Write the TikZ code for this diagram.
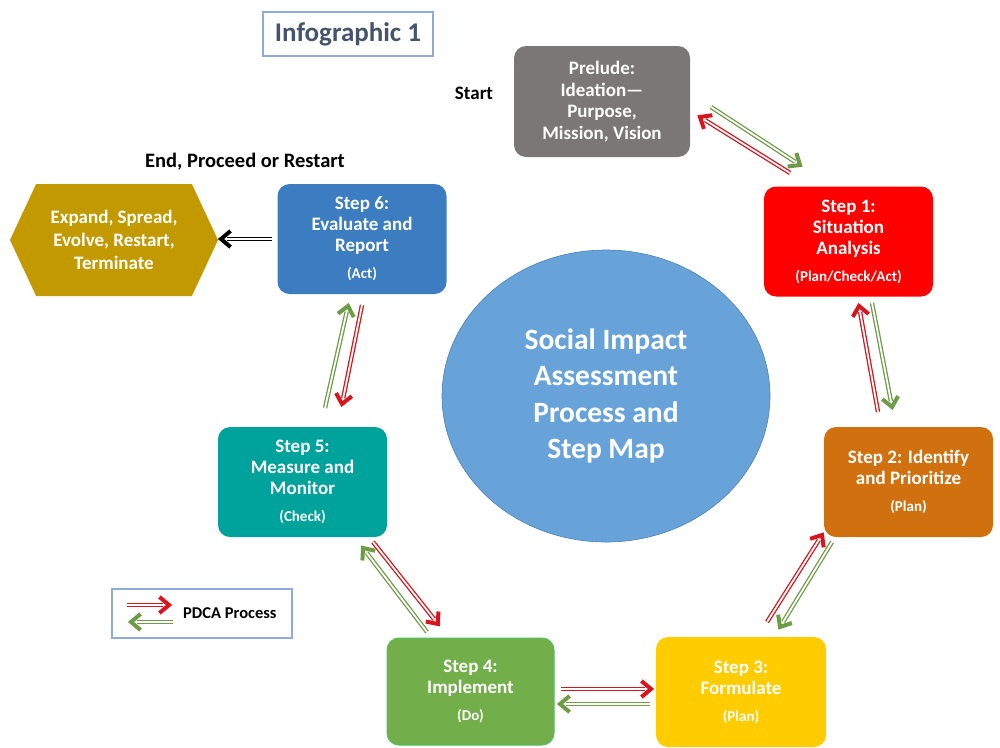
\documentclass[tikz,border=0pt]{standalone}
\usepackage{fontspec}
\setmainfont{Carlito}
\usetikzlibrary{arrows.meta,calc,shapes.geometric,shapes.symbols}

\definecolor{preludegray}{HTML}{7B7777}
\definecolor{stepred}{HTML}{FF0000}
\definecolor{steporange}{HTML}{D0700F}
\definecolor{stepyellow}{HTML}{FFCC00}
\definecolor{stepgreen}{HTML}{72AE49}
\definecolor{stepgreenedge}{HTML}{4FC060}
\definecolor{stepteal}{HTML}{00A39B}
\definecolor{stepblue}{HTML}{3B7DC0}
\definecolor{hexgold}{HTML}{C29A00}
\definecolor{centreblue}{HTML}{67A3D9}
\definecolor{centreedge}{HTML}{4F82B8}
\definecolor{titleslate}{HTML}{44546A}
\definecolor{frameblue}{HTML}{8EACD6}
\definecolor{arrowred}{HTML}{D9141C}
\definecolor{arrowgreen}{HTML}{6E9C46}

% double-lined arrow: shaft drawn double, chevron head drawn on top
\newcommand\pdcaarrow[3]{%
  \draw[pshaft=#1] (#2) -- ($(#3)!6pt!(#2)$);
  \draw[phead=#1] ($(#3)!12.5pt!-40:(#2)$) -- (#3) -- ($(#3)!12.5pt!40:(#2)$);
}

\begin{document}
\begin{tikzpicture}[x=1pt,y=-1pt,
  stepbox/.style={rounded corners=12pt, minimum width=169pt, minimum height=110pt,
    inner sep=0pt, align=center, text=white,
    font=\fontsize{19}{21}\selectfont\bfseries, fill=#1},
  pshaft/.style={draw=#1, line width=1.3pt, double=white, double distance=1.8pt},
  phead/.style={draw=#1, line width=4pt, line join=miter, line cap=butt},
  plain/.style={font=\fontsize{19}{21}\selectfont\bfseries, text=black, inner sep=0pt}
]
\useasboundingbox (0,0) rectangle (1000,747);

\newcommand\subl[1]{\\[6pt]{\fontsize{15}{16}\selectfont #1}}

% title
\node[draw=frameblue, line width=1.3pt, minimum width=170pt, minimum height=44pt,
  inner sep=0pt, text=titleslate, font=\fontsize{27}{30}\selectfont\bfseries]
  (title) at (348,34) {Infographic 1};

% central ellipse
\node[ellipse, fill=centreblue, draw=centreedge, line width=0.6pt,
  minimum width=328pt, minimum height=292pt, inner sep=0pt, align=center,
  text=white, font=\fontsize{29.5}{36.5}\selectfont\bfseries]
  (core) at (606,396) {Social Impact\\Assessment\\Process and\\Step Map};

% process steps
\node[stepbox=preludegray, minimum width=176pt, minimum height=111pt,
  font=\fontsize{19}{21.5}\selectfont\bfseries]
  (prelude) at (602,101.5) {Prelude:\\Ideation---\\Purpose,\\Mission, Vision};
\node[stepbox=stepred] (s1) at (848.5,241.5) {Step 1:\\Situation\\Analysis\subl{(Plan/Check/Act)}};
\node[stepbox=steporange] (s2) at (908.5,482) {Step 2: Identify\\and Prioritize\subl{(Plan)}};
\node[stepbox=stepyellow, minimum width=170pt] (s3) at (741,692) {Step 3:\\Formulate\subl{(Plan)}};
\node[stepbox=stepgreen, draw=stepgreenedge, line width=1pt, minimum width=167pt,
  minimum height=107pt] (s4) at (470.5,691.5) {Step 4:\\Implement\subl{(Do)}};
\node[stepbox=stepteal] (s5) at (302.5,482) {Step 5:\\Measure and\\Monitor\subl{(Check)}};
\node[stepbox=stepblue, minimum height=110pt] (s6) at (362,239) {Step 6:\\Evaluate and\\Report\subl{(Act)}};

% outcome hexagon
\node[signal, signal to=west and east, signal pointer angle=130, fill=hexgold,
  minimum width=208pt, minimum height=112pt, inner sep=0pt, align=center,
  text=white, font=\fontsize{19}{23}\selectfont\bfseries]
  (outcome) at (114,240) {Expand, Spread,\\Evolve, Restart,\\Terminate};

% free labels
\node[plain] (start) at (474,93) {Start};
\node[plain, font=\fontsize{20.5}{23}\selectfont\bfseries] (endlabel) at (245,162) {End, Proceed or Restart};

% arrow end points
\coordinate (a1t) at (790,173);  \coordinate (a1h) at (700,117);
\coordinate (b1t) at (711,107);  \coordinate (b1h) at (800,165);
\coordinate (a2t) at (878,412);  \coordinate (a2h) at (859,306);
\coordinate (b2t) at (872,303);  \coordinate (b2h) at (892,407);
\coordinate (a3t) at (767,622);  \coordinate (a3h) at (822,535);
\coordinate (b3t) at (832,542);  \coordinate (b3h) at (780,627);
\coordinate (a4t) at (561,689);  \coordinate (a4h) at (651,689);
\coordinate (b4t) at (650,704);  \coordinate (b4h) at (560,704);
\coordinate (a5t) at (373,542);  \coordinate (a5h) at (438,624);
\coordinate (b5t) at (427,632);  \coordinate (b5h) at (363,548);
\coordinate (a6t) at (362,305);  \coordinate (a6h) at (342,404);
\coordinate (b6t) at (325,408);  \coordinate (b6h) at (348,306);
\coordinate (endt) at (272,239);
\coordinate (endh) at (221,239);

% PDCA cycle arrows
\pdcaarrow{arrowred}{a1t}{a1h}
\pdcaarrow{arrowgreen}{b1t}{b1h}
\pdcaarrow{arrowred}{a2t}{a2h}
\pdcaarrow{arrowgreen}{b2t}{b2h}
\pdcaarrow{arrowred}{a3t}{a3h}
\pdcaarrow{arrowgreen}{b3t}{b3h}
\pdcaarrow{arrowred}{a4t}{a4h}
\pdcaarrow{arrowgreen}{b4t}{b4h}
\pdcaarrow{arrowred}{a5t}{a5h}
\pdcaarrow{arrowgreen}{b5t}{b5h}
\pdcaarrow{arrowred}{a6t}{a6h}
\pdcaarrow{arrowgreen}{b6t}{b6h}
\pdcaarrow{black}{endt}{endh}

% legend
\node[draw=frameblue, line width=1.2pt, minimum width=180pt, minimum height=49pt,
  inner sep=0pt] (legend) at (202,613.5) {};
\node[anchor=west, font=\fontsize{16.5}{18}\selectfont\bfseries, inner sep=0pt]
  (legendtext) at (183,613) {PDCA Process};
\coordinate (lat) at (127,605); \coordinate (lah) at (169,605);
\coordinate (lbt) at (173,622); \coordinate (lbh) at (131,622);
\pdcaarrow{arrowred}{lat}{lah}
\pdcaarrow{arrowgreen}{lbt}{lbh}
\end{tikzpicture}
\end{document}
